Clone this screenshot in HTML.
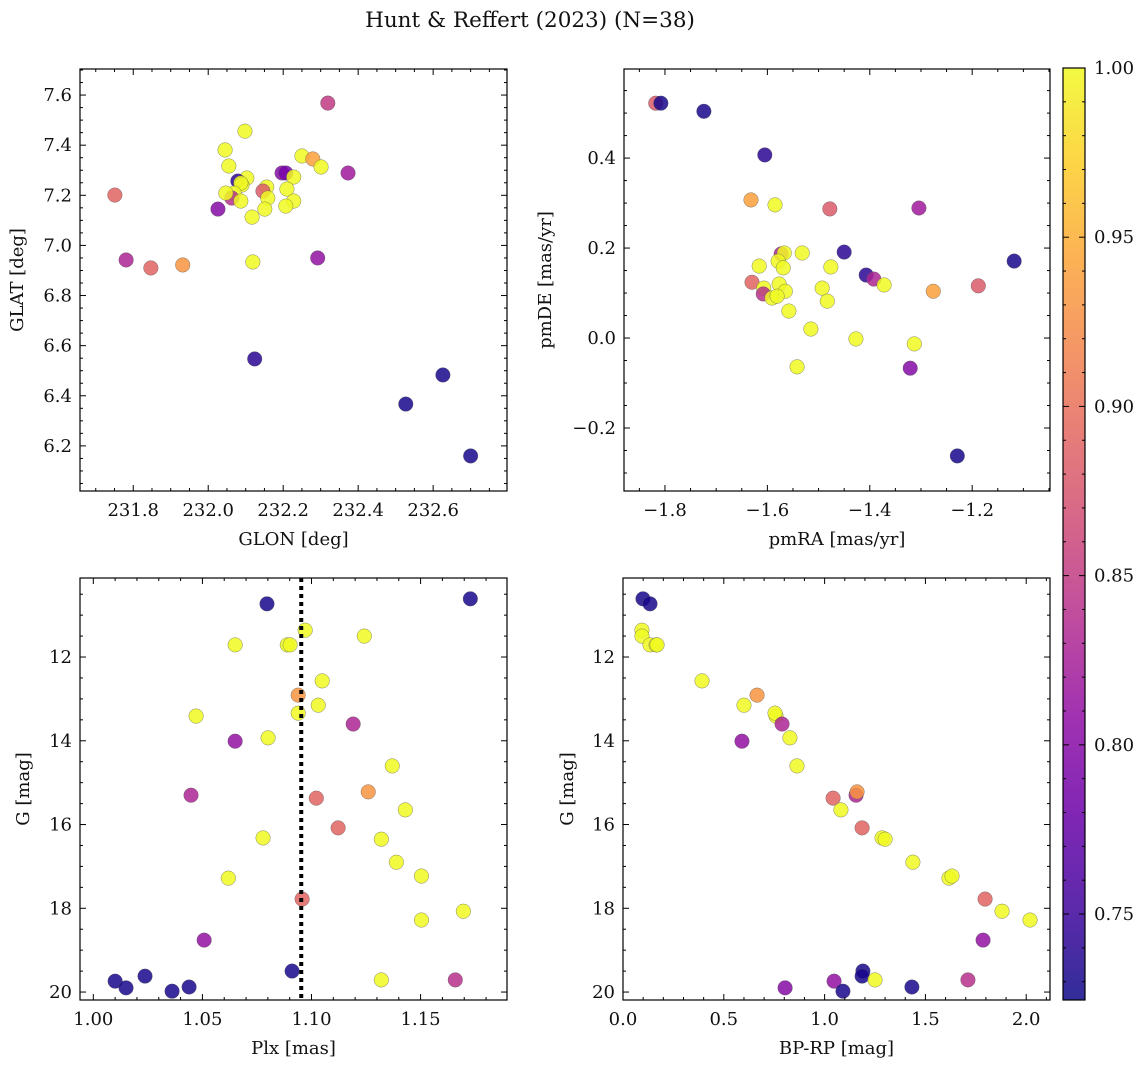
<!DOCTYPE html>
<html><head><meta charset="utf-8">
<style>
html,body{margin:0;padding:0;background:#fff;}
svg text{font-family:"DejaVu Serif","Liberation Serif",serif;fill:#111;}
</style></head>
<body>
<svg id="fig" width="1148" height="1068" viewBox="0 0 1148 1068" xmlns="http://www.w3.org/2000/svg">
<text x="530" y="27" font-size="21.5" text-anchor="middle">Hunt &amp; Reffert (2023) (N=38)</text>
</svg>
<script>
// Panel 1: GLON vs GLAT
const glonTL = [232.319,232.098,232.045,232.250,232.279,232.301,232.055,232.197,232.207,232.373,232.103,232.228,232.079,232.090,232.087,232.156,232.210,232.146,232.069,232.063,232.159,232.087,232.228,232.207,232.151,231.751,232.026,232.117,231.781,231.847,231.932,232.119,232.292,232.124,232.527,232.626,232.700,232.047];
const glatTL = [7.568,7.456,7.381,7.357,7.345,7.313,7.317,7.289,7.289,7.289,7.269,7.273,7.257,7.241,7.249,7.233,7.225,7.217,7.209,7.189,7.189,7.177,7.177,7.157,7.145,7.201,7.145,7.113,6.942,6.910,6.922,6.934,6.950,6.547,6.367,6.483,6.160,7.209];
const probTL = [0.85,1,1,1,0.94,1,1,0.80,0.79,0.82,1,1,0.74,1,1,1,1,0.88,1,0.84,1,1,1,1,1,0.89,0.80,1,0.83,0.89,0.93,1,0.81,0.74,0.73,0.73,0.73,1];
// Panel 2: pmRA vs pmDE
const pmraTR = [-1.818,-1.808,-1.724,-1.605,-1.632,-1.585,-1.478,-1.304,-1.450,-1.118,-1.573,-1.567,-1.532,-1.616,-1.579,-1.569,-1.476,-1.407,-1.392,-1.372,-1.630,-1.577,-1.607,-1.565,-1.493,-1.276,-1.188,-1.608,-1.591,-1.581,-1.483,-1.558,-1.515,-1.427,-1.313,-1.542,-1.321,-1.229];
const pmdeTR = [0.522,0.522,0.504,0.407,0.307,0.296,0.287,0.289,0.191,0.171,0.187,0.189,0.189,0.160,0.171,0.156,0.158,0.140,0.131,0.118,0.124,0.120,0.111,0.104,0.111,0.104,0.116,0.098,0.089,0.093,0.082,0.060,0.020,-0.002,-0.013,-0.064,-0.067,-0.262];
const probTR = [0.88,0.73,0.73,0.74,0.94,1,0.88,0.82,0.74,0.73,0.83,1,1,1,1,1,1,0.74,0.83,1,0.89,1,1,1,1,0.94,0.88,0.84,1,1,1,1,1,1,1,1,0.80,0.73];
// Panel 3: Plx vs G
const plxBL = [1.1728,1.0796,1.0971,1.1242,1.0650,1.0889,1.0902,1.1049,1.0939,1.1031,1.0471,1.0939,1.1191,1.0650,1.0801,1.1370,1.0448,1.1022,1.1260,1.1430,1.1122,1.0778,1.1320,1.1389,1.0619,1.1504,1.0957,1.1696,1.1504,1.0508,1.0911,1.0100,1.0150,1.0237,1.0361,1.0439,1.1320,1.1659];
const gBL = [10.61,10.73,11.36,11.50,11.71,11.71,11.71,12.57,12.91,13.15,13.41,13.34,13.60,14.01,13.93,14.60,15.30,15.37,15.22,15.65,16.08,16.32,16.35,16.90,17.28,17.23,17.78,18.07,18.28,18.76,19.50,19.74,19.90,19.62,19.98,19.88,19.71,19.71];
const probBL = [0.73,0.73,1,1,1,1,1,1,0.93,1,1,1,0.83,0.81,1,1,0.83,0.89,0.93,1,0.89,1,1,1,1,1,0.89,1,1,0.81,0.73,0.73,0.73,0.73,0.73,0.73,1,0.84];
const plxMedian = [1.0953];
// Panel 4: BP-RP vs G
const bprpBR = [0.099,0.134,0.094,0.094,0.134,0.164,0.169,0.392,0.665,0.600,0.759,0.754,0.789,0.590,0.828,0.863,1.156,1.042,1.161,1.081,1.186,1.285,1.300,1.438,1.617,1.632,1.796,1.880,2.019,1.786,1.190,1.047,0.804,1.186,1.091,1.433,1.250,1.711];
const gBR = [10.61,10.73,11.36,11.50,11.71,11.71,11.71,12.57,12.91,13.15,13.41,13.34,13.60,14.01,13.93,14.60,15.30,15.37,15.22,15.65,16.08,16.32,16.35,16.90,17.28,17.23,17.78,18.07,18.28,18.76,19.50,19.74,19.90,19.62,19.98,19.88,19.71,19.71];
const probBR = [0.73,0.73,1,1,1,1,1,1,0.93,1,1,1,0.83,0.81,1,1,0.83,0.89,0.93,1,0.89,1,1,1,1,1,0.89,1,1,0.81,0.73,0.81,0.80,0.73,0.73,0.73,1,0.84];
// Tick labels
const ticksTLx = [231.8,232.0,232.2,232.4,232.6];
const ticksTLy = [6.2,6.4,6.6,6.8,7.0,7.2,7.4,7.6];
const ticksTRx = [-1.8,-1.6,-1.4,-1.2];
const ticksTRy = [-0.2,0.0,0.2,0.4];
const ticksBLx = [1.00,1.05,1.10,1.15];
const ticksGy = [12,14,16,18,20];
const ticksBRx = [0.0,0.5,1.0,1.5,2.0];
const ticksCbar = [0.75,0.80,0.85,0.90,0.95,1.00];

const NS='http://www.w3.org/2000/svg';
const svg=document.getElementById('fig');
const VMIN=0.7246, VMAX=1.0;
const FS=18;
const plasma=['#0d0887','#41049d','#6a00a8','#8f0da4','#b12a90','#cc4778','#e16462','#f2844b','#fca636','#fcce25','#f0f921'];
function hex(h){return [1,3,5].map(i=>parseInt(h.substr(i,2),16));}
function cmap(v){let t=(v-VMIN)/(VMAX-VMIN);t=Math.max(0,Math.min(1,t));const s=t*10;const i=Math.min(9,Math.floor(s));const f=s-i;const a=hex(plasma[i]),b=hex(plasma[i+1]);return 'rgb('+a.map((c,k)=>Math.round(c+(b[k]-c)*f)).join(',')+')';}
function el(tag,attrs,parent){const e=document.createElementNS(NS,tag);for(const k in attrs)e.setAttribute(k,attrs[k]);(parent||svg).appendChild(e);return e;}
function fmt(v,d){let s=v.toFixed(d);if(v<0)s='\u2212'+s.slice(1);return s;}

function panel(o){
  const g=el('g',{});
  
  
  const L=o.box[0],T=o.box[1],R=o.box[2],B=o.box[3];
  const sx=v=>L+(v-o.xr[0])/(o.xr[1]-o.xr[0])*(R-L);
  const sy=o.inv?(v=>T+(v-o.yr[0])/(o.yr[1]-o.yr[0])*(B-T)):(v=>B-(v-o.yr[0])/(o.yr[1]-o.yr[0])*(B-T));
  const clip=el('clipPath',{id:o.name+'-clip'},g);
  el('rect',{x:L,y:T,width:R-L,height:B-T},clip);
  const pg=el('g',{'clip-path':'url(#'+o.name+'-clip)'},g);
  for(let i=0;i<o.x.length;i++){
    const c=el('circle',{cx:sx(o.x[i]),cy:sy(o.y[i]),r:7.3,fill:cmap(o.c[i]),'fill-opacity':0.85,stroke:'#555','stroke-width':0.5,'stroke-opacity':0.7},pg);
    
    
  }
  if(o.vline){
    for(const v of o.vline){
      const l=el('line',{x1:sx(v),x2:sx(v),y1:T,y2:B,stroke:'#000','stroke-width':4,'stroke-dasharray':'4,4'},pg);
      
      
    }
  }
  el('rect',{x:L,y:T,width:R-L,height:B-T,fill:'none',stroke:'#000','stroke-width':1.2},g);
  const xmin=Math.min(...o.xr),xmax=Math.max(...o.xr);
  for(let k=Math.ceil(xmin/o.xminor-1e-6);k*o.xminor<=xmax+1e-9;k++){
    const v=k*o.xminor,x=sx(v);
    const major=Math.abs(v/o.xmajor-Math.round(v/o.xmajor))<1e-6;
    const len=major?6:3;
    el('line',{x1:x,x2:x,y1:B,y2:B-len,stroke:'#000','stroke-width':1},g);
    el('line',{x1:x,x2:x,y1:T,y2:T+len,stroke:'#000','stroke-width':1},g);
  }
  for(const v of o.xt){
    const t=el('text',{x:sx(v),y:B+25,'font-size':FS,'text-anchor':'middle'},g);
    t.textContent=fmt(v,o.xd);
    
    
  }
  const ymin=Math.min(...o.yr),ymax=Math.max(...o.yr);
  for(let k=Math.ceil(ymin/o.yminor-1e-6);k*o.yminor<=ymax+1e-9;k++){
    const v=k*o.yminor,y=sy(v);
    const major=Math.abs(v/o.ymajor-Math.round(v/o.ymajor))<1e-6;
    const len=major?6:3;
    el('line',{x1:L,x2:L+len,y1:y,y2:y,stroke:'#000','stroke-width':1},g);
    el('line',{x1:R,x2:R-len,y1:y,y2:y,stroke:'#000','stroke-width':1},g);
  }
  for(const v of o.yt){
    const t=el('text',{x:L-8,y:sy(v)+6,'font-size':FS,'text-anchor':'end'},g);
    t.textContent=fmt(v,o.yd);
    
    
  }
  const xl=el('text',{x:(L+R)/2,y:B+54,'font-size':FS,'text-anchor':'middle'},g);
  xl.textContent=o.xlabel;
  
  
  const yx=o.ylx, yy=(T+B)/2;
  const yl=el('text',{x:yx,y:yy,'font-size':FS,'text-anchor':'middle',transform:'rotate(-90 '+yx+' '+yy+')'},g);
  yl.textContent=o.ylabel;
  
  
}

panel({name:'glon-glat-panel',box:[80,69,507,491],xr:[231.658,232.797],yr:[6.020,7.704],x:glonTL,y:glatTL,c:probTL,xt:ticksTLx,yt:ticksTLy,xd:1,yd:1,xmajor:0.2,xminor:0.05,ymajor:0.2,yminor:0.05,xlabel:'GLON [deg]',ylabel:'GLAT [deg]',ylx:23});
panel({name:'proper-motion-panel',box:[624,69,1050,491],xr:[-1.880,-1.048],yr:[-0.340,0.598],x:pmraTR,y:pmdeTR,c:probTR,xt:ticksTRx,yt:ticksTRy,xd:1,yd:1,xmajor:0.2,xminor:0.05,ymajor:0.2,yminor:0.05,xlabel:'pmRA [mas/yr]',ylabel:'pmDE [mas/yr]',ylx:551});
panel({name:'plx-g-panel',box:[80,578,507,1000],xr:[0.9939,1.1896],yr:[10.113,20.19],inv:true,x:plxBL,y:gBL,c:probBL,vline:plxMedian,xt:ticksBLx,yt:ticksGy,xd:2,yd:0,xmajor:0.05,xminor:0.01,ymajor:2,yminor:0.5,xlabel:'Plx [mas]',ylabel:'G [mag]',ylx:29});
panel({name:'cmd-panel',box:[623,578,1050,1000],xr:[0,2.118],yr:[10.113,20.19],inv:true,x:bprpBR,y:gBR,c:probBR,xt:ticksBRx,yt:ticksGy,xd:1,yd:0,xmajor:0.5,xminor:0.1,ymajor:2,yminor:0.5,xlabel:'BP-RP [mag]',ylabel:'G [mag]',ylx:573});

(function(){
  const g=el('g',{});
  
  
  const L=1063,R=1085,T=68,B=1000;
  const defs=el('defs',{},g);
  const lg=el('linearGradient',{id:'cbgrad',x1:0,y1:1,x2:0,y2:0},defs);
  for(let i=0;i<=20;i++){const v=VMIN+(VMAX-VMIN)*i/20;el('stop',{offset:i/20,'stop-color':cmap(v),'stop-opacity':0.85},lg);}
  el('rect',{x:L,y:T,width:R-L,height:B-T,fill:'url(#cbgrad)',stroke:'#000','stroke-width':1.2},g);
  const sy=v=>B-(v-VMIN)/(VMAX-VMIN)*(B-T);
  for(let k=73;k<=100;k++){const v=k/100,y=sy(v);const major=k%5===0;const len=major?6:3;
    el('line',{x1:R,x2:R-len,y1:y,y2:y,stroke:'#000','stroke-width':1},g);
    el('line',{x1:L,x2:L+len,y1:y,y2:y,stroke:'#000','stroke-width':1},g);}
  for(const v of ticksCbar){const t=el('text',{x:R+9,y:sy(v)+6,'font-size':FS},g);t.textContent=v.toFixed(2);
    
    }
})();
</script>
</body></html>
